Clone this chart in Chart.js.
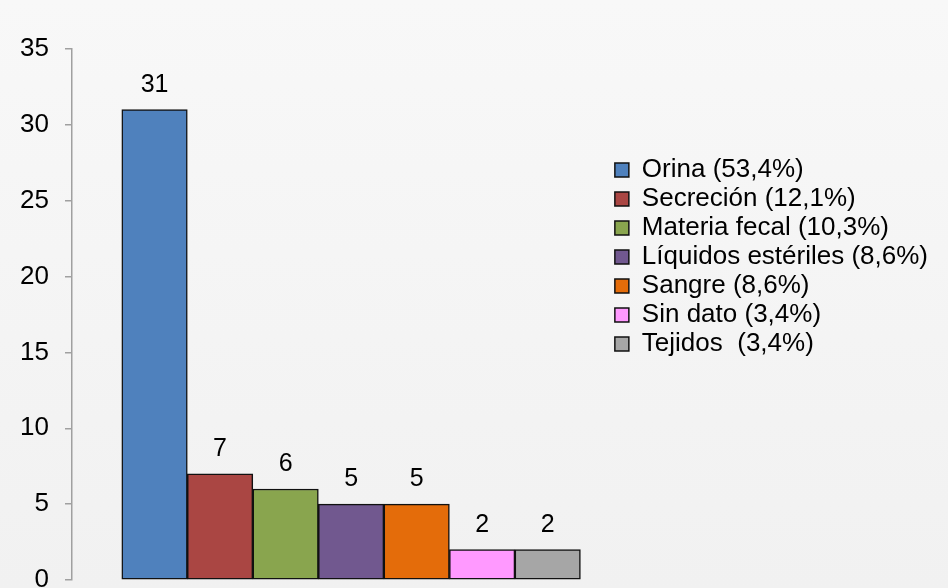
<!DOCTYPE html>
<html>
<head>
<meta charset="utf-8">
<script src="https://cdn.jsdelivr.net/npm/chart.js@4.4.0/dist/chart.umd.min.js"></script>
<style>
    html, body { margin: 0; padding: 0; }
    body {
        width: 948px;
        height: 588px;
        overflow: hidden;
        background: linear-gradient(to bottom, #f8f8f8, #f1f1f1);
    }
    #wrap { position: relative; width: 948px; height: 588px; }
</style>
</head>
<body>
<div id="wrap"><canvas id="sampleChart"></canvas></div>
<script>
"use strict";

// Sample types, with their share of the total, and sample counts
const sampleLabels = [
    'Orina (53,4%)',
    'Secreción (12,1%)',
    'Materia fecal (10,3%)',
    'Líquidos estériles (8,6%)',
    'Sangre (8,6%)',
    'Sin dato (3,4%)',
    'Tejidos  (3,4%)'
];
const sampleCounts = [31, 7, 6, 5, 5, 2, 2];
const sampleColors = ['#4f81bd', '#aa4643', '#89a54e', '#71588f', '#e46c0a', '#ff99ff', '#a6a6a6'];
const yMax = 35;
const yStep = 5;

const FONT = '"Liberation Sans", Arial, sans-serif';
Chart.defaults.font.family = FONT;
Chart.defaults.color = '#000';

/**
 * Writes the count above every bar
 */
const valueLabels = {
    id: 'valueLabels',
    afterDatasetsDraw(chart) {
        const ctx = chart.ctx;
        ctx.save();
        ctx.font = '25px ' + FONT;
        ctx.fillStyle = '#000';
        ctx.textAlign = 'center';
        ctx.textBaseline = 'alphabetic';
        chart.data.datasets.forEach((ds, i) => {
            chart.getDatasetMeta(i).data.forEach((bar, j) => {
                ctx.fillText(String(ds.data[j].y), bar.x, bar.y - 18);
            });
        });
        ctx.restore();
    }
};

renderChart();

/**
 * One dataset per sample type so every type gets its own legend entry;
 * bars sit side by side on a hidden linear x axis.
 */
function renderChart() {
    const datasets = sampleLabels.map((label, i) => ({
        label: label,
        data: [{ x: i, y: sampleCounts[i] }],
        backgroundColor: sampleColors[i],
        borderColor: '#111',
        borderWidth: 1.5,
        borderSkipped: false,
        grouped: false,
        barPercentage: 1,
        categoryPercentage: 1
    }));

    new Chart(document.getElementById('sampleChart'), {
        type: 'bar',
        data: { datasets: datasets },
        plugins: [valueLabels],
        options: {
            responsive: true,
            maintainAspectRatio: false,
            animation: false,
            layout: { padding: { top: 49, bottom: 8, left: 0, right: 10 } },
            scales: {
                x: {
                    type: 'linear',
                    display: false,
                    offset: false,
                    bounds: 'data',
                    min: -1.26,
                    max: 6.98,
                    // no ticks here, so bar width comes from the spacing of the data
                    afterBuildTicks(scale) {
                        scale.ticks = [];
                    }
                },
                y: {
                    min: 0,
                    max: yMax,
                    ticks: {
                        stepSize: yStep,
                        padding: 16,
                        font: { size: 26 },
                        color: '#000'
                    },
                    grid: {
                        drawOnChartArea: false,
                        tickLength: 7,
                        color: '#a0a0a0',
                        lineWidth: 1.5
                    },
                    border: { color: '#a0a0a0', width: 1.5 },
                    afterFit(scale) {
                        scale.width = 72;
                        scale.paddingTop = 0;
                        scale.paddingBottom = 0;
                    }
                }
            },
            plugins: {
                tooltip: { enabled: false },
                legend: {
                    position: 'right',
                    align: 'start',
                    maxWidth: 360,
                    title: {
                        display: true,
                        text: '',
                        font: { size: 10 },
                        padding: { top: 93, bottom: 0 }
                    },
                    labels: {
                        boxWidth: 14,
                        boxHeight: 14,
                        padding: 3,
                        font: { size: 26 },
                        color: '#000'
                    }
                }
            }
        }
    });
}
</script>
</body>
</html>
